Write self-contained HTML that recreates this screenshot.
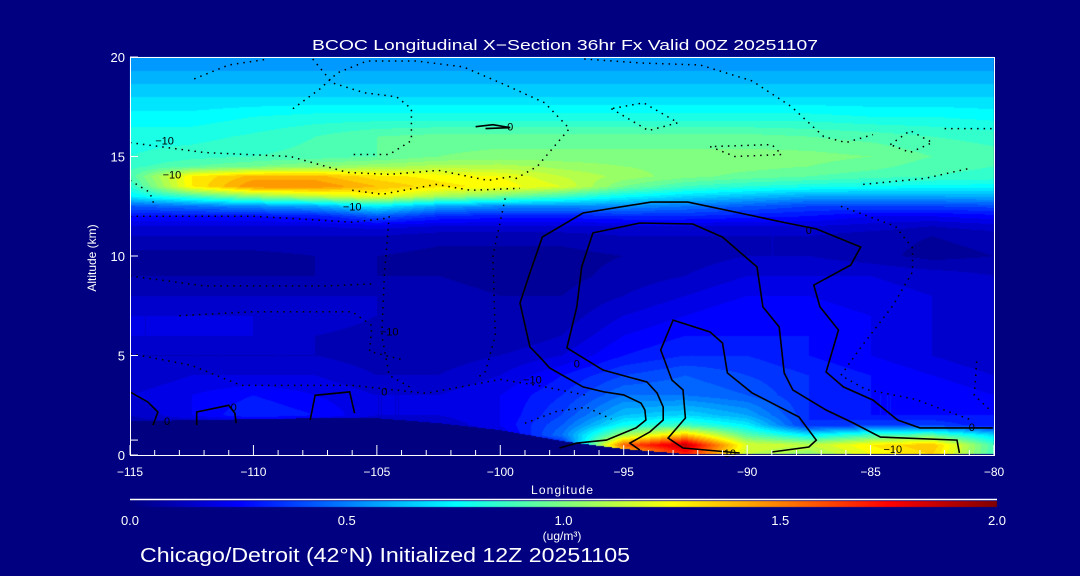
<!DOCTYPE html>
<html><head><meta charset="utf-8">
<style>
html,body{margin:0;padding:0;background:#000080;}
#wrap{position:relative;width:1080px;height:576px;overflow:hidden;background:#000080;font-family:"Liberation Sans",sans-serif;color:#fff;}
canvas{position:absolute;left:0;top:0;}
svg{position:absolute;left:0;top:0;}
</style></head>
<body>
<div id="wrap">
<canvas id="cv" width="1080" height="576"></canvas>
<svg id="sv" width="1080" height="576"></svg>
</div>
<script>
// ---- data ----
const lons = [-115,-112.5,-110,-107.5,-105,-102.5,-100,-97.5,-95,-92.5,-90,-87.5,-85,-82.5,-80];
const alts = [0,0.5,1,1.5,2,3,4,5,6,7,8,9,10,11,11.5,12,12.5,13,13.5,14,14.5,15,16,17,18,19,20];
const conc = [
[0,0,0,0,0,0,0,0,1.2,1.7,1.15,1.05,1.25,1.35,0.9],
[0,0,0,0,0,0,0,0.3,1.6,1.9,1.2,1.15,1.3,1.4,0.9],
[0,0,0,0,0,0,0.2,0.5,1.1,1.4,0.95,0.75,0.9,0.95,0.7],
[0.1,0.1,0.1,0.1,0.1,0.15,0.25,0.45,0.8,0.9,0.75,0.35,0.4,0.4,0.3],
[0.15,0.25,0.35,0.3,0.2,0.2,0.25,0.4,0.65,0.7,0.6,0.35,0.3,0.3,0.3],
[0.2,0.25,0.3,0.25,0.2,0.2,0.25,0.35,0.5,0.5,0.45,0.35,0.3,0.3,0.25],
[0.15,0.2,0.2,0.2,0.15,0.15,0.2,0.3,0.4,0.45,0.4,0.35,0.3,0.25,0.2],
[0.15,0.15,0.15,0.15,0.12,0.12,0.15,0.2,0.3,0.35,0.35,0.3,0.25,0.2,0.15],
[0.2,0.2,0.2,0.15,0.12,0.1,0.1,0.15,0.25,0.3,0.3,0.3,0.25,0.2,0.15],
[0.2,0.2,0.2,0.2,0.15,0.12,0.1,0.12,0.2,0.25,0.3,0.28,0.25,0.2,0.15],
[0.15,0.15,0.15,0.15,0.15,0.12,0.1,0.1,0.15,0.2,0.25,0.25,0.22,0.2,0.15],
[0.1,0.1,0.1,0.1,0.1,0.1,0.08,0.08,0.12,0.15,0.2,0.2,0.2,0.18,0.15],
[0.08,0.08,0.08,0.1,0.1,0.08,0.08,0.08,0.1,0.12,0.15,0.15,0.12,0.08,0.1],
[0.15,0.15,0.15,0.15,0.15,0.12,0.12,0.12,0.15,0.15,0.15,0.15,0.12,0.1,0.12],
[0.2,0.2,0.2,0.2,0.22,0.2,0.2,0.2,0.2,0.2,0.2,0.2,0.18,0.15,0.18],
[0.3,0.3,0.3,0.32,0.45,0.35,0.32,0.32,0.35,0.35,0.32,0.3,0.25,0.25,0.28],
[0.45,0.5,0.55,0.6,0.75,0.6,0.55,0.55,0.55,0.5,0.45,0.4,0.4,0.4,0.42],
[0.75,0.9,1.05,1.15,1.25,1.1,1.0,0.9,0.78,0.7,0.65,0.6,0.6,0.6,0.62],
[0.85,1.3,1.5,1.5,1.4,1.32,1.28,1.2,1.0,0.9,0.85,0.82,0.8,0.78,0.78],
[0.92,1.3,1.42,1.42,1.32,1.28,1.25,1.15,1.08,1.02,0.98,0.95,0.92,0.9,0.88],
[0.88,0.95,1.0,1.05,1.08,1.12,1.12,1.08,1.05,1.03,1.02,1.0,0.97,0.92,0.9],
[0.85,0.88,0.9,0.92,0.95,1.0,1.02,1.02,1.02,1.02,1.02,1.02,1.0,0.95,0.92],
[0.83,0.83,0.86,0.9,0.95,0.97,0.97,0.97,0.97,0.97,0.97,0.95,0.93,0.9,0.88],
[0.77,0.77,0.8,0.82,0.82,0.82,0.82,0.82,0.82,0.82,0.82,0.82,0.8,0.8,0.78],
[0.7,0.7,0.7,0.7,0.7,0.7,0.7,0.7,0.7,0.7,0.7,0.7,0.7,0.7,0.7],
[0.62,0.62,0.62,0.62,0.62,0.62,0.62,0.62,0.62,0.62,0.62,0.62,0.62,0.62,0.62],
[0.55,0.55,0.55,0.55,0.55,0.55,0.55,0.55,0.55,0.55,0.55,0.55,0.55,0.55,0.55]
];
const terrain = [1.7,1.75,1.8,1.85,1.85,1.6,1.25,0.7,0.3,0.05,0.03,0.03,0.03,0.03,0.03];
const xTicks = [-115,-110,-105,-100,-95,-90,-85,-80];
const xTickLabels = ["\u2212115","\u2212110","\u2212105","\u2212100","\u221295","\u221290","\u221285","\u221280"];
const yTicks = [0,5,10,15,20];
const cbTicks = [0,0.5,1,1.5,2];
const cbTickLabels = ["0.0","0.5","1.0","1.5","2.0"];
const solidLines = [
 [[-97.6,0.35],[-96.9,0.6],[-95.7,0.75],[-94.5,1.36],[-94.1,1.76],[-94.14,2.26],[-94.3,2.61],[-95.0,3.02],[-95.8,3.17],[-96.65,3.42],[-98.0,4.37],[-98.4,4.92],[-98.8,5.43],[-99.2,7.64],[-98.8,9.15],[-98.3,10.95],[-96.65,12.16],[-93.9,12.71],[-92.4,12.71],[-90.3,12.16],[-88.4,11.66],[-87.2,11.36],[-85.4,10.45],[-85.8,9.55],[-87.3,8.54],[-87.05,7.44],[-86.3,6.28],[-86.8,4.17],[-86.1,3.42],[-84.9,2.76],[-83.9,1.76],[-83.0,1.36],[-80.05,1.36]],
 [[-94.35,0.25],[-94.75,0.6],[-93.94,1.16],[-93.4,1.76],[-93.4,2.41],[-93.65,3.12],[-94.06,3.67],[-95.84,4.27],[-97.3,5.38],[-96.9,7.44],[-96.7,9.45],[-96.25,11.16],[-94.35,11.66],[-92.2,11.61],[-91.0,10.95],[-89.6,9.45],[-89.36,7.44],[-88.7,6.43],[-88.5,4.12],[-88.15,3.27],[-86.8,2.26],[-85.7,1.61],[-84.6,0.9],[-81.5,0.75],[-81.4,0.1]],
 [[-90.3,0.1],[-92.6,0.35],[-93.2,0.85],[-92.5,1.86],[-92.6,3.27],[-93.05,3.77],[-93.5,5.28],[-93.0,6.78],[-91.5,6.18],[-91.0,5.63],[-90.8,4.12],[-89.8,3.12],[-87.9,1.91],[-87.2,0.75],[-87.5,0.4],[-89.0,0.15]],
 [[-115,3.17],[-114.27,2.66],[-113.87,2.16],[-114.07,1.5]],
 [[-112.3,1.5],[-112.3,2.16],[-111.0,2.5],[-110.75,2.1],[-110.7,1.6]],
 [[-107.7,1.76],[-107.5,3.0],[-106.1,3.17],[-105.9,2.1]],
 [[-101.0,16.5],[-100.3,16.6],[-99.6,16.45],[-100.6,16.4]]
];
const dottedLines = [
 [[-115,12.0],[-110,12.0],[-106,11.7],[-104.6,11.9]],
 [[-104.5,12.0],[-104.7,9],[-104.8,6],[-104.5,4],[-103.5,3.3]],
 [[-99.8,12.9],[-100.3,10],[-100.2,6],[-100.6,4.2],[-101,3.8]],
 [[-115,9],[-112,8.5],[-107,8.5],[-105.2,8.6]],
 [[-113,7.0],[-110,7.2],[-106,7.2],[-105.2,6.5],[-105.3,5.2],[-104,4.8]],
 [[-115,5.1],[-112.5,4.5],[-110.5,3.5],[-106,3.5],[-103,3.1],[-100,3.8],[-98.5,3.5],[-96.5,3.0]],
 [[-112.4,18.9],[-111,19.6],[-109.4,19.9]],
 [[-108.4,17.4],[-107.3,18.4],[-106.6,19.2],[-105.4,19.8],[-103.4,19.8],[-101.5,19.5],[-99.8,18.6],[-98.2,17.7],[-97.2,16.4],[-98.5,14.5],[-99.5,13.8]],
 [[-115,15.7],[-112,15.2],[-108.5,15.0],[-106.2,14.2],[-104.5,14.1],[-102.5,14.3],[-100.5,13.8],[-99.5,14.0]],
 [[-106,13.3],[-104.8,13.1],[-102.6,13.6],[-101.2,13.3],[-99.2,13.4]],
 [[-115,13.8],[-114.2,13.2],[-114.0,12.5]],
 [[-107.6,19.9],[-106.8,18.7],[-105.5,18.2],[-104.2,18.0],[-103.6,17.4],[-103.6,15.8],[-104.5,15.1],[-106,15.1]],
 [[-96.6,19.9],[-94.3,19.7],[-91.9,19.6],[-89.8,18.8],[-88.2,17.5],[-86.9,16.0],[-86.0,15.7],[-84.9,16.1]],
 [[-95.5,17.4],[-94,16.3],[-92.8,16.7],[-94.2,17.7],[-95.5,17.4]],
 [[-91.5,15.5],[-90.5,15.0],[-88.6,15.1],[-89.0,15.6],[-91.5,15.5]],
 [[-84.2,15.6],[-83.4,16.3],[-82.5,15.7],[-83.4,15.2],[-84.2,15.6]],
 [[-82,16.4],[-80,16.4]],
 [[-85.3,13.6],[-82.8,13.9],[-81,14.4]],
 [[-86.2,12.5],[-84,11.5],[-83.3,10.4],[-83.3,9.2],[-84.1,7.5],[-85.4,5.4],[-86.2,4.0],[-85.2,3.3],[-83.2,2.8],[-81,1.8]],
 [[-80.7,4.7],[-80.8,3.0],[-80.2,2.3]],
 [[-99,1.6],[-97.7,2.2],[-96.5,2.4],[-95.5,1.8]]
];
const lineLabels = [
 {t:"\u221210",lon:-113.6,alt:15.8},{t:"\u221210",lon:-113.3,alt:14.1},{t:"0",lon:-99.6,alt:16.5},
 {t:"\u221210",lon:-106,alt:12.5},{t:"0",lon:-87.5,alt:11.3},{t:"0",lon:-80.9,alt:1.4},
 {t:"\u221210",lon:-84.1,alt:0.3},{t:"10",lon:-90.7,alt:0.1},{t:"0",lon:-96.9,alt:4.6},
 {t:"0",lon:-110.8,alt:2.4},{t:"0",lon:-113.5,alt:1.7},{t:"0",lon:-104.7,alt:3.2},
 {t:"\u221210",lon:-98.7,alt:3.8},{t:"\u221210",lon:-104.5,alt:6.2}
];
// ---- axes ----
const PL=130,PR=994,PT=57,PB=455;
const LON0=-115,LON1=-80,ALT0=0,ALT1=20;
function xS(lon){return PL+(lon-LON0)/(LON1-LON0)*(PR-PL);}
function yS(alt){return PB-(alt-ALT0)/(ALT1-ALT0)*(PB-PT);}
function jet(t){t=Math.max(0,Math.min(1,t));
 const c=v=>Math.round(255*Math.max(0,Math.min(1,v)));
 return [c(1.5-Math.abs(4*t-3)),c(1.5-Math.abs(4*t-2)),c(1.5-Math.abs(4*t-1))];}
function findIdx(arr,v){for(let i=0;i<arr.length-1;i++){if(v<=arr[i+1])return i;}return arr.length-2;}
function field(lon,alt){
 const i=findIdx(lons,lon),j=findIdx(alts,alt);
 const fx=Math.max(0,Math.min(1,(lon-lons[i])/(lons[i+1]-lons[i])));
 const fy=Math.max(0,Math.min(1,(alt-alts[j])/(alts[j+1]-alts[j])));
 const a=conc[j][i],b=conc[j][i+1],c=conc[j+1][i],d=conc[j+1][i+1];
 return (a*(1-fx)+b*fx)*(1-fy)+(c*(1-fx)+d*fx)*fy;}
function terr(lon){const i=findIdx(lons,lon);const f=(lon-lons[i])/(lons[i+1]-lons[i]);return terrain[i]*(1-f)+terrain[i+1]*f;}
// ---- field ----
const cv=document.getElementById('cv');const ctx=cv.getContext('2d');
const img=ctx.createImageData(PR-PL,PB-PT);
for(let py=0;py<PB-PT;py++){
 const alt=ALT1-(py+0.5)/(PB-PT)*(ALT1-ALT0);
 for(let px=0;px<PR-PL;px++){
  const lon=LON0+(px+0.5)/(PR-PL)*(LON1-LON0);
  let v=field(lon,alt);
  if(alt<terr(lon))v=0;
  v=Math.floor(v/0.05)*0.05;
  const col=jet(v/2);const k=(py*(PR-PL)+px)*4;
  img.data[k]=col[0];img.data[k+1]=col[1];img.data[k+2]=col[2];img.data[k+3]=255;
 }}
ctx.putImageData(img,PL,PT);
// colorbar
for(let x=130;x<997;x++){const col=jet((x-130)/(997-130));ctx.fillStyle=`rgb(${col[0]},${col[1]},${col[2]})`;ctx.fillRect(x,501,1,6);}
// ---- overlay ----
const NS='http://www.w3.org/2000/svg';const sv=document.getElementById('sv');
function mk(tag,attrs,parent){const e=document.createElementNS(NS,tag);for(const k in attrs)e.setAttribute(k,attrs[k]);(parent||sv).appendChild(e);return e;}
function txt(s,x,y,size,anchor,name){const e=mk('text',{x:x,y:y,'font-size':size,'text-anchor':anchor||'middle',fill:'#fff','font-family':'Liberation Sans, sans-serif'});e.textContent=s;


return e;}
solidLines.forEach((ln,i)=>{const p=mk('polyline',{points:ln.map(q=>xS(q[0]).toFixed(1)+','+yS(q[1]).toFixed(1)).join(' '),fill:'none',stroke:'#000','stroke-width':1.6});

});
dottedLines.forEach((ln,i)=>{const p=mk('polyline',{points:ln.map(q=>xS(q[0]).toFixed(1)+','+yS(q[1]).toFixed(1)).join(' '),fill:'none',stroke:'#000','stroke-width':1.5,'stroke-dasharray':'1.5 5'});

});
lineLabels.forEach(l=>{const e=txt(l.t,xS(l.lon),yS(l.alt)+4,11,'middle','contour-label');e.setAttribute('fill','#000');});
// frame
const fr=mk('rect',{x:PL+0.5,y:PT+0.5,width:PR-PL,height:PB-PT,fill:'none',stroke:'#fff','stroke-width':1});


for(let lon=LON0;lon<=LON1;lon++){const major=(lon%5===0);const t=mk('line',{x1:xS(lon),x2:xS(lon),y1:PB,y2:PB-(major?10:5),stroke:'#fff','stroke-width':1});

}
xTicks.forEach((v,i)=>txt(xTickLabels[i],xS(v),476,12,'middle','x-tick-label'));
yTicks.forEach(v=>{const t=mk('line',{x1:PL,x2:PL+8,y1:yS(v),y2:yS(v),stroke:'#fff','stroke-width':1});


txt(String(v),125,yS(v)+5,13,'end','y-tick-label');});
const mt=mk('line',{x1:PL,x2:PL+8,y1:yS(0.75),y2:yS(0.75),stroke:'#fff','stroke-width':1});


txt('Longitude',562,494,12,'middle','x-axis-title').setAttribute('textLength','62');
const yt=txt('Altitude (km)',0,0,12,'middle','y-axis-title');yt.setAttribute('transform','translate(96,258) rotate(-90)');
const tt=txt('BCOC Longitudinal X\u2212Section 36hr  Fx Valid 00Z 20251107',565,50,15,'middle','chart-title');
tt.setAttribute('xml:space','preserve');tt.setAttribute('textLength','506');tt.setAttribute('lengthAdjust','spacingAndGlyphs');
const cbl=mk('line',{x1:130,x2:997,y1:499.5,y2:499.5,stroke:'#fff','stroke-width':1.5});


cbTicks.forEach((v,i)=>txt(cbTickLabels[i],130+v/2*(997-130),525,13,'middle','colorbar-tick-label'));
txt('(ug/m\u00b3)',562,540,12,'middle','colorbar-units');
const ft=txt('Chicago/Detroit (42\u00b0N) Initialized 12Z 20251105',140,562,20,'start','footer-caption');
ft.setAttribute('textLength','490');ft.setAttribute('lengthAdjust','spacingAndGlyphs');
</script>
</body></html>
